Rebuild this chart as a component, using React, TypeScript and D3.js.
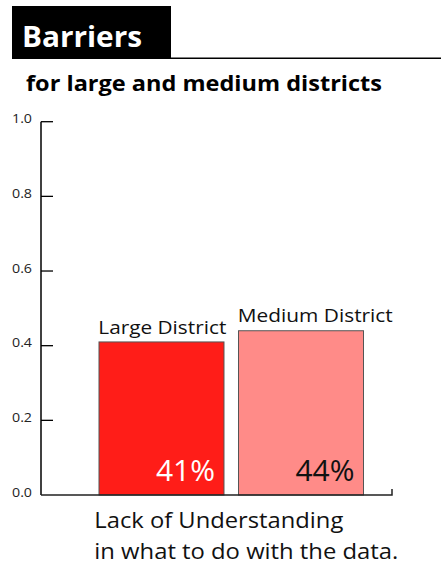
import React from "react";
import * as d3 from "d3";

const title = "Barriers";
const subtitle = "for large and medium districts";
const categories = ["Large District", "Medium District"];
const values = [0.41, 0.44];
const barColors = ["#ff1d18", "#ff8b88"];
const valueTextColors = ["#ffffff", "#111111"];
const yTicks = [0, 0.2, 0.4, 0.6, 0.8, 1.0];
const categoryLabel = ["Lack of Understanding", "in what to do with the data."];

const FONT = "'Open Sans', 'Noto Sans', sans-serif";

export default function App() {
  const W = 441;
  const H = 565;
  const axisX = 41;
  const y = d3.scaleLinear().domain([0, 1]).range([495, 121.7]);
  const x = d3
    .scaleBand<string>()
    .domain(categories)
    .range([99, 363.5])
    .paddingInner(0.104)
    .paddingOuter(0);
  const fmtTick = d3.format(".1f");
  const fmtPct = d3.format(".0%");
  const labelWidths = [128, 155];
  const labelOffsets = [8, 9];

  return (
    <svg
      width={W}
      height={H}
      style={{ position: "absolute", left: 0, top: 0, background: "#fff" }}
    >
      {/* Title block */}
      <rect x={12} y={6} width={159} height={53} fill="#000" />
      <line x1={171} x2={441} y1={58.3} y2={58.3} stroke="#000" strokeWidth={1.5} />
      <text
        x={22}
        y={47}
        fill="#fff"
        fontFamily={FONT}
        fontWeight={700}
        fontSize={28.5}
        textLength={120}
        lengthAdjust="spacingAndGlyphs"
      >
        {title}
      </text>
      <text
        x={26}
        y={91}
        fill="#000"
        fontFamily={FONT}
        fontWeight={700}
        fontSize={21}
        textLength={356}
        lengthAdjust="spacingAndGlyphs"
      >
        {subtitle}
      </text>

      {/* Y axis */}
      <line x1={axisX} x2={axisX} y1={y(1)} y2={y(0)} stroke="#000" strokeWidth={1.5} />
      {yTicks.map((t) => (
        <g key={t}>
          {t > 0 && (
            <line x1={axisX} x2={53} y1={y(t)} y2={y(t)} stroke="#000" strokeWidth={1.3} />
          )}
          <text
            x={32}
            y={y(t) + 1.5}
            textAnchor="end"
            fontFamily={FONT}
            fontSize={13}
            fill="#222"
            textLength={20}
            lengthAdjust="spacingAndGlyphs"
          >
            {fmtTick(t)}
          </text>
        </g>
      ))}

      {/* Bars */}
      {categories.map((c, i) => {
        const x0 = x(c) as number;
        const bw = x.bandwidth();
        const top = y(values[i]);
        return (
          <g key={c}>
            <rect
              x={x0}
              y={top}
              width={bw}
              height={y(0) - top}
              fill={barColors[i]}
              stroke="#555"
              strokeWidth={1}
            />
            <text
              x={x0 - 0.7}
              y={top - labelOffsets[i]}
              fontFamily={FONT}
              fontSize={19}
              fill="#111"
              textLength={labelWidths[i]}
              lengthAdjust="spacingAndGlyphs"
            >
              {c}
            </text>
            <text
              x={x0 + bw - 9}
              y={481}
              textAnchor="end"
              fontFamily={FONT}
              fontSize={29.5}
              fill={valueTextColors[i]}
              textLength={59}
              lengthAdjust="spacingAndGlyphs"
            >
              {fmtPct(values[i])}
            </text>
          </g>
        );
      })}

      {/* X axis */}
      <path
        d={`M${axisX},${y(0)}H392V${y(0) - 6}`}
        fill="none"
        stroke="#222"
        strokeWidth={1.5}
      />

      {/* Category label */}
      <text
        x={94.3}
        y={527.7}
        fontFamily={FONT}
        fontSize={22}
        fill="#111"
        textLength={249}
        lengthAdjust="spacingAndGlyphs"
      >
        {categoryLabel[0]}
      </text>
      <text
        x={94.3}
        y={559}
        fontFamily={FONT}
        fontSize={21.5}
        fill="#111"
        textLength={304}
        lengthAdjust="spacingAndGlyphs"
      >
        {categoryLabel[1]}
      </text>
    </svg>
  );
}
